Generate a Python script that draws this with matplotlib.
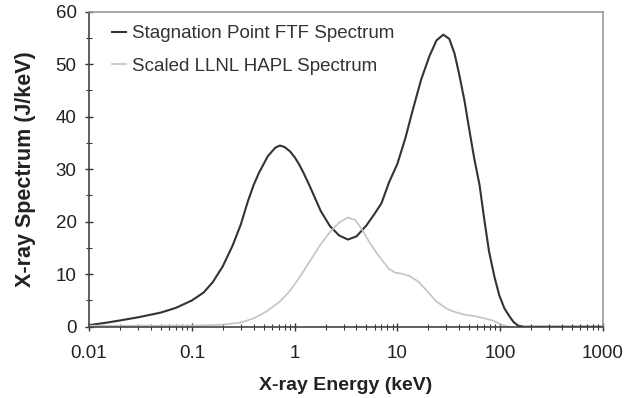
import matplotlib
matplotlib.use("Agg")
import matplotlib.pyplot as plt
from matplotlib.ticker import FixedLocator, LogLocator, NullFormatter, MultipleLocator

plt.rcParams["font.family"] = ["Liberation Sans", "DejaVu Sans"]

# Stagnation point FTF spectrum
ftf_energy = [0.01, 0.015, 0.02, 0.03, 0.05, 0.07, 0.1, 0.13, 0.16, 0.2, 0.25, 0.3,
              0.35, 0.4, 0.45, 0.55, 0.65, 0.72, 0.8, 0.9, 1.0, 1.1, 1.2, 1.35, 1.5, 1.8,
              2.2, 2.7, 3.3, 4.0, 5.0, 6.0, 7.0, 8.3, 10, 12, 14, 17, 20.5, 24, 28,
              32, 36, 40, 45, 50, 56, 63, 70, 78, 88, 98, 110, 123, 135, 150, 170, 1000]
ftf_spec = [0.3, 0.8, 1.2, 1.8, 2.7, 3.6, 5.0, 6.5, 8.5, 11.5, 15.5, 19.5,
            23.8, 27.0, 29.3, 32.5, 34.1, 34.5, 34.2, 33.4, 32.3, 31.0, 29.6, 27.5, 25.5, 22.0,
            19.2, 17.4, 16.6, 17.2, 19.3, 21.5, 23.5, 27.5, 31.0, 36.0, 41.0, 47.0, 51.5, 54.5, 55.6,
            54.8, 52.0, 48.0, 43.0, 37.6, 32.0, 27.0, 20.5, 14.3, 9.5, 6.0, 3.5, 2.0, 0.9, 0.2, 0.0, 0.0]

# Scaled LLNL HAPL spectrum
hapl_energy = [0.01, 0.02, 0.05, 0.1, 0.2, 0.3, 0.4, 0.53, 0.7, 0.89, 1.1, 1.4, 1.75,
               2.2, 2.7, 3.3, 3.9, 4.5, 5.3, 6.2, 7.0, 8.3, 9.5, 11, 13, 16, 19, 24,
               30, 35, 45, 58, 70, 85, 100, 115, 130]
hapl_spec = [0.2, 0.2, 0.2, 0.2, 0.4, 0.8, 1.6, 2.9, 4.6, 6.7, 9.2, 12.4, 15.4,
             18.0, 19.8, 20.8, 20.3, 18.6, 16.2, 14.2, 12.8, 11.0, 10.3, 10.1, 9.7, 8.6, 7.0, 4.8,
             3.5, 2.9, 2.3, 2.0, 1.6, 1.2, 0.5, 0.1, 0.0]

x_ticks = [0.01, 0.1, 1, 10, 100, 1000]
x_tick_labels = ["0.01", "0.1", "1", "10", "100", "1000"]

fig = plt.figure(figsize=(6.36, 3.98), dpi=100)
ax = fig.add_axes([0.14, 0.179, 0.808, 0.792])

ax.plot(ftf_energy, ftf_spec, color="#333333", lw=1.5, label="Stagnation Point FTF Spectrum")
ax.plot(hapl_energy, hapl_spec, color="#c4c4c4", lw=1.2, label="Scaled LLNL HAPL Spectrum")

ax.set_xscale("log")
ax.set_xlim(0.01, 1000)
ax.set_ylim(0, 60)
ax.xaxis.set_major_locator(FixedLocator(x_ticks))
ax.set_xticklabels(x_tick_labels)
ax.xaxis.set_minor_locator(LogLocator(base=10, subs=range(2, 10), numticks=20))
ax.xaxis.set_minor_formatter(NullFormatter())
ax.yaxis.set_major_locator(MultipleLocator(10))
ax.yaxis.set_minor_locator(MultipleLocator(5))

ax.tick_params(which="major", direction="inout", length=6, width=1, colors="#333333",
               labelsize=13.5, labelcolor="#222222")
ax.tick_params(which="minor", direction="inout", length=4, width=0.8, colors="#333333")
ax.tick_params(axis="x", pad=10)
ax.tick_params(axis="y", pad=6)

for side in ["left", "bottom"]:
    ax.spines[side].set_color("#444444")
    ax.spines[side].set_linewidth(1.2)
for side in ["top", "right"]:
    ax.spines[side].set_color("#999999")
    ax.spines[side].set_linewidth(1.2)

ax.set_xlabel("X-ray Energy (keV)", fontsize=14, fontweight="bold", color="#222222", labelpad=11)
ax.set_ylabel("X-ray Spectrum (J/keV)", fontsize=15.5, fontweight="bold", color="#222222", labelpad=14)

ax.legend(loc="upper left", bbox_to_anchor=(0.012, 1.01), frameon=False, fontsize=13.5,
          handlelength=0.75, handletextpad=0.3, labelspacing=0.82, labelcolor="#333333")

fig.savefig("out.png", dpi=100)
